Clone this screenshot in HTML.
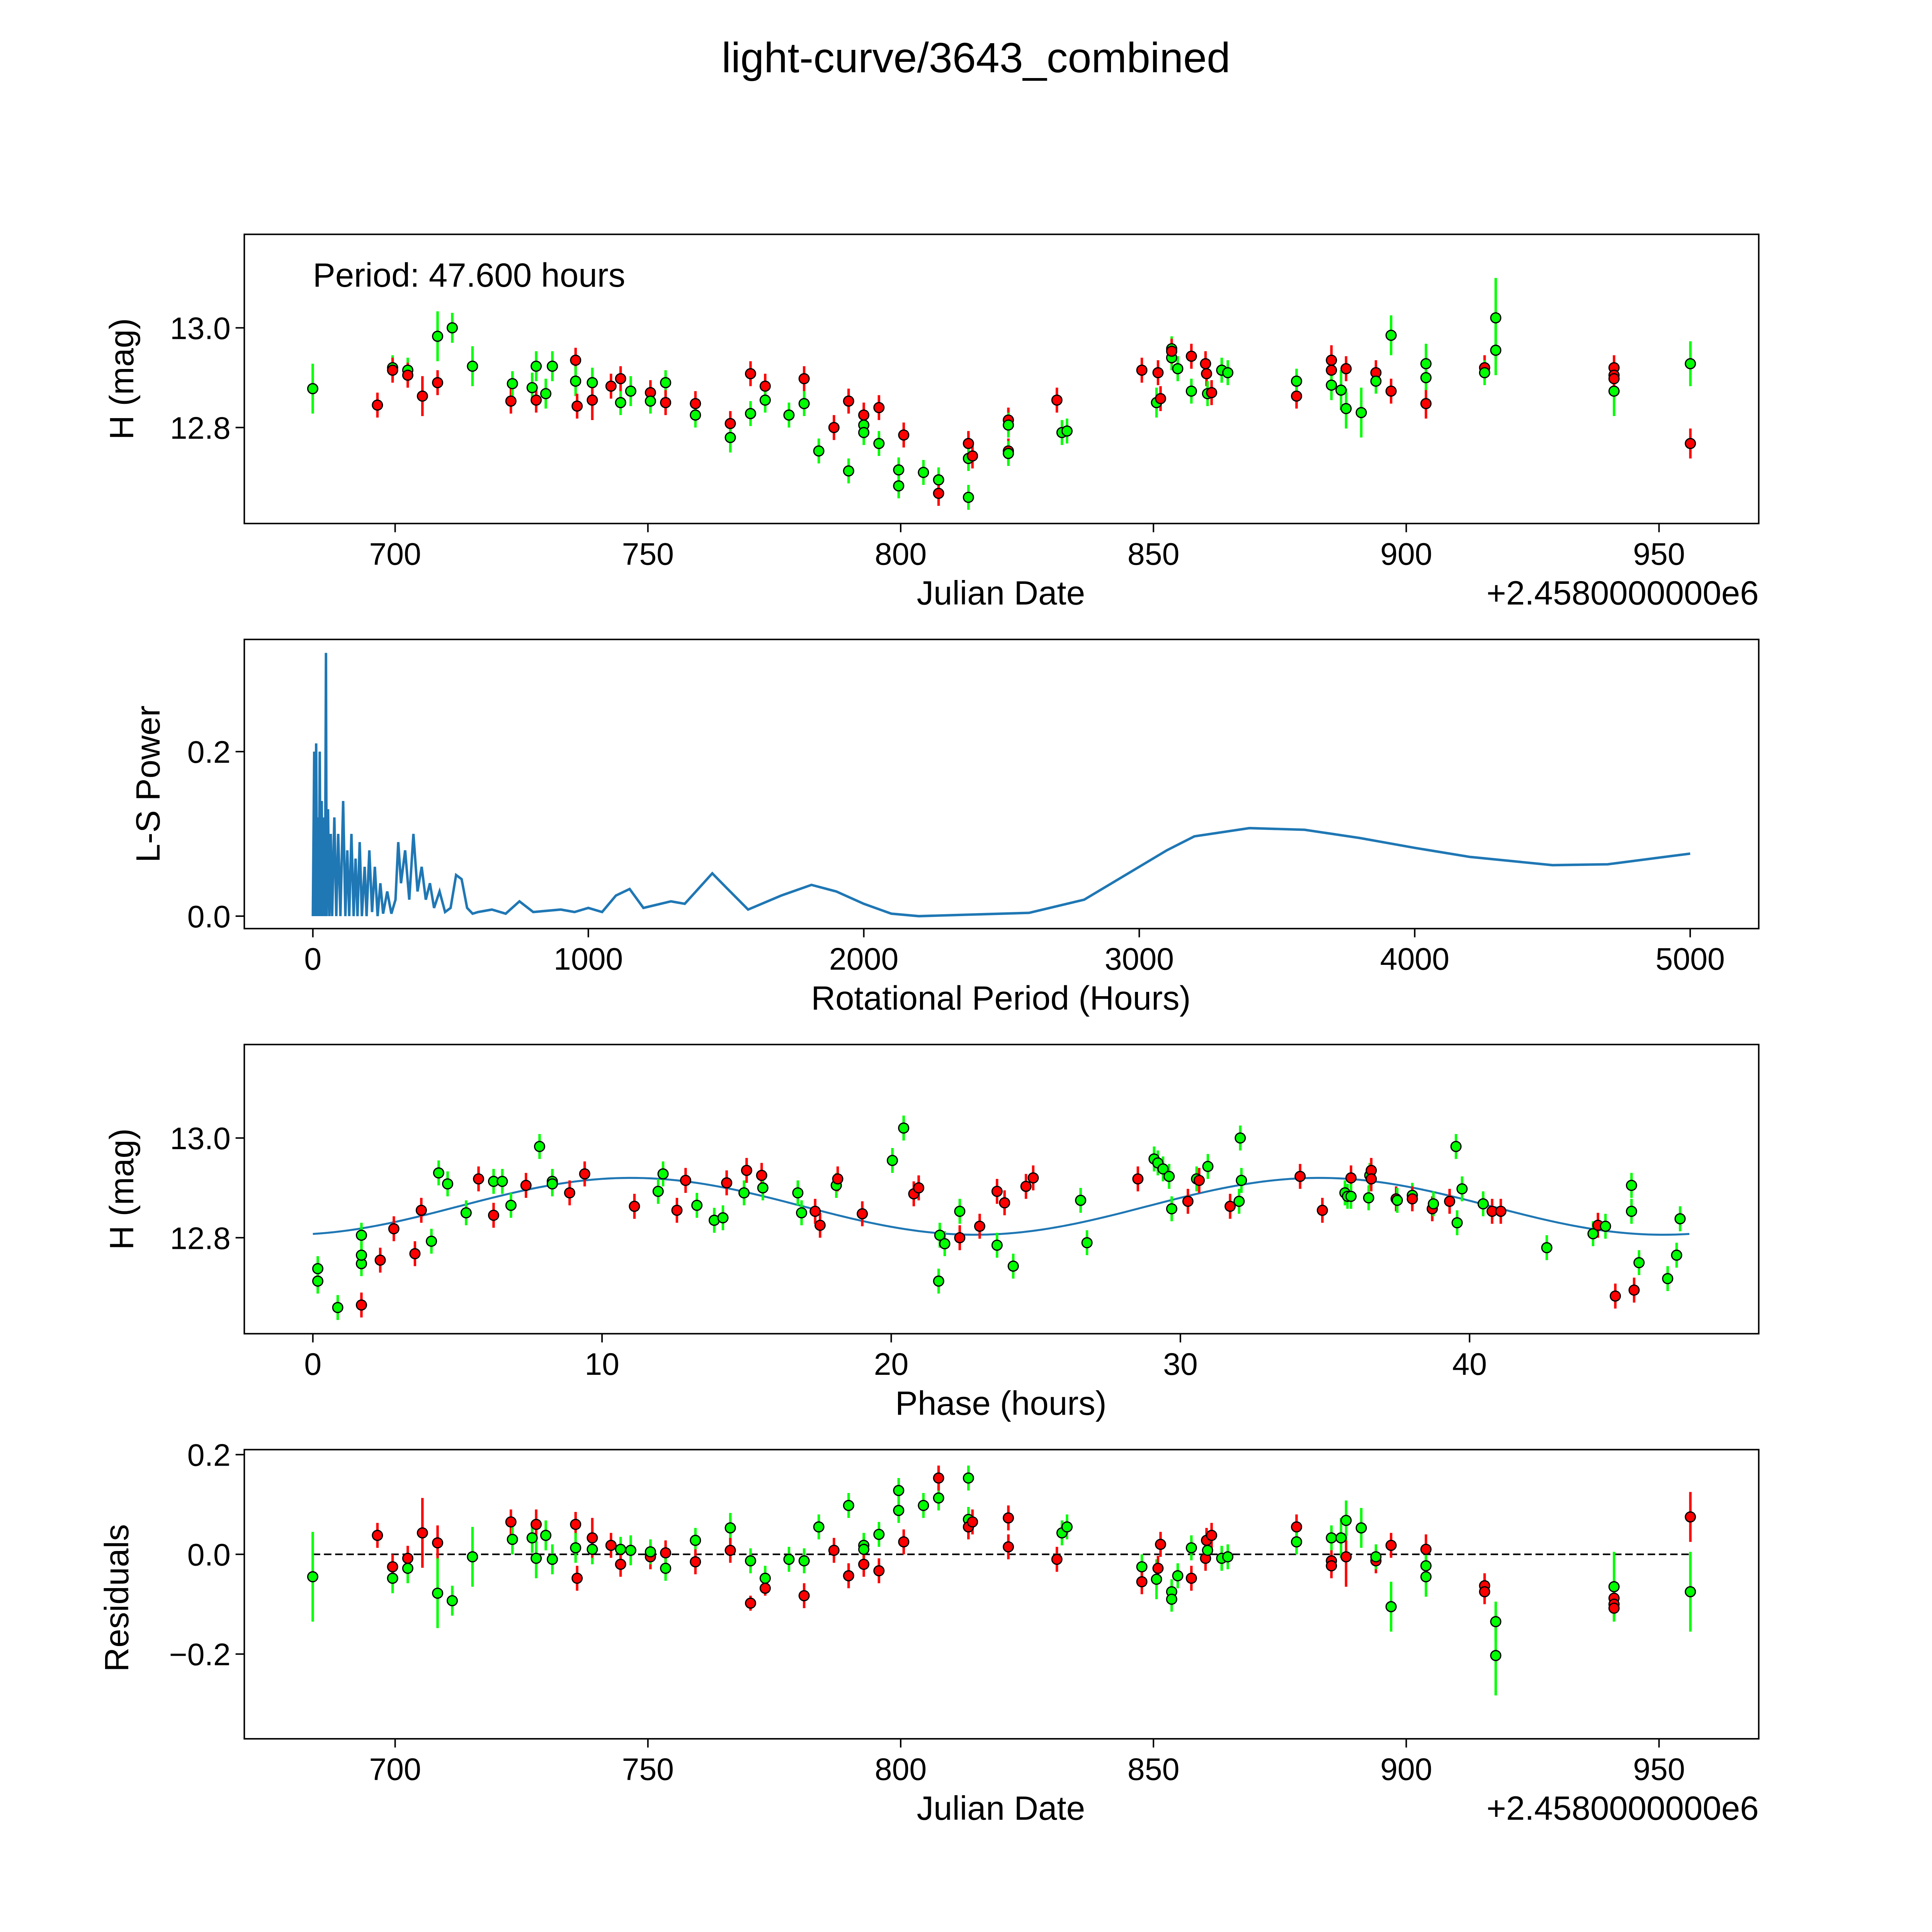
<!DOCTYPE html>
<html><head><meta charset="utf-8"><style>
html,body{margin:0;padding:0;background:#fff;overflow:hidden;width:100%;height:100%;}
svg{display:block;width:100vw;height:100vh;font-family:"Liberation Sans","DejaVu Sans",sans-serif;}
</style></head><body>
<svg id="fig" viewBox="0 0 1550 1550" preserveAspectRatio="none" xmlns="http://www.w3.org/2000/svg">
<rect width="1550" height="1550" fill="#fff"/>
<text x="783" y="58" font-size="34" text-anchor="middle">light-curve/3643_combined</text>
</svg>
<script>
// ---------- DATA ----------
const lcDate=[683.7,696.5,699.5,699.5,702.5,702.5,705.4,708.4,708.4,711.3,715.3,722.9,723.2,727.1,727.9,727.9,729.8,731.1,735.7,735.7,736.0,739.0,739.0,742.7,744.6,744.6,746.6,750.5,750.5,753.5,753.5,759.4,759.4,766.3,766.3,770.3,770.3,773.2,773.2,777.9,780.9,780.9,783.8,786.8,789.7,789.7,792.7,792.7,792.7,795.7,795.7,799.6,799.6,800.6,804.5,807.5,807.5,813.4,813.4,813.4,814.2,821.3,821.3,821.3,821.3,830.9,831.9,832.9,847.7,850.9,850.6,851.4,853.6,853.6,853.6,854.8,857.5,857.5,860.3,860.5,860.7,861.5,863.5,864.7,878.3,878.3,885.2,885.2,885.2,887.1,888.1,888.1,891.1,894.0,894.0,897.0,897.0,903.9,903.9,903.9,915.5,915.5,917.7,917.7,941.1,941.1,941.1,941.1,956.2,956.2];
const lcMag=[12.878,12.845,12.920,12.915,12.915,12.905,12.863,12.983,12.890,13.000,12.923,12.853,12.888,12.880,12.923,12.855,12.868,12.923,12.935,12.893,12.843,12.890,12.855,12.883,12.850,12.898,12.873,12.870,12.853,12.890,12.850,12.848,12.825,12.808,12.780,12.828,12.908,12.883,12.855,12.825,12.848,12.898,12.753,12.800,12.713,12.853,12.825,12.805,12.790,12.840,12.768,12.715,12.683,12.785,12.710,12.695,12.668,12.768,12.660,12.738,12.743,12.815,12.805,12.753,12.748,12.855,12.790,12.793,12.915,12.910,12.850,12.858,12.958,12.940,12.953,12.918,12.943,12.873,12.928,12.908,12.868,12.870,12.915,12.910,12.863,12.893,12.935,12.915,12.885,12.875,12.838,12.918,12.830,12.910,12.893,12.985,12.873,12.848,12.928,12.900,12.920,12.910,13.020,12.955,12.920,12.905,12.873,12.898,12.928,12.768];
const lcErr=[0.05,0.025,0.025,0.025,0.025,0.025,0.04,0.05,0.025,0.03,0.04,0.025,0.025,0.03,0.03,0.025,0.03,0.03,0.025,0.03,0.025,0.03,0.04,0.025,0.025,0.025,0.03,0.025,0.025,0.025,0.025,0.025,0.025,0.025,0.03,0.025,0.025,0.025,0.025,0.025,0.025,0.025,0.025,0.025,0.025,0.025,0.025,0.025,0.025,0.025,0.025,0.025,0.025,0.025,0.025,0.025,0.025,0.025,0.025,0.025,0.025,0.025,0.025,0.025,0.025,0.025,0.025,0.025,0.025,0.025,0.03,0.025,0.025,0.025,0.025,0.025,0.025,0.025,0.025,0.025,0.025,0.025,0.025,0.025,0.025,0.025,0.03,0.025,0.03,0.04,0.04,0.025,0.05,0.025,0.025,0.04,0.025,0.03,0.04,0.025,0.025,0.025,0.08,0.05,0.025,0.025,0.05,0.025,0.045,0.03];
const lcColor="grgrgrrgrg"+"grgggrggrg"+"rgrrgrgrgg"+"rrgrggrrgg"+"grgrgrrggr"+"gggrggrrgg"+"rrgrgrggrr"+"grggrgrgrr"+"grggrgrrgg"+"grgrggrrgg"+"rgggrrgrgr";
// phase-folded data
const phPhase=[0.17,0.17,0.86,1.68,1.68,1.68,1.68,2.33,2.8,3.53,3.75,4.1,4.35,4.66,5.3,5.73,6.25,6.25,6.55,6.85,7.37,7.84,8.28,8.28,8.88,9.4,11.12,12.11,11.94,12.59,12.89,13.28,13.88,14.18,14.31,15.0,14.91,15.52,15.56,16.77,16.9,17.37,17.54,18.1,18.15,19.0,20.04,20.43,20.78,20.95,21.64,21.68,21.85,22.37,22.37,23.06,23.66,23.66,23.92,24.22,24.66,24.91,26.55,26.77,28.53,29.09,29.22,29.4,29.61,29.7,30.26,30.56,30.65,30.95,31.72,32.03,32.07,32.11,34.91,34.14,35.69,35.78,35.9,35.9,36.51,36.55,36.6,36.6,37.46,37.5,38.02,38.02,38.71,38.75,39.31,39.53,39.57,39.74,40.47,40.78,41.08,42.67,44.27,44.44,44.7,45.6,45.6,45.04,45.69,45.86,46.85,47.28,47.16];
const phMag=[12.738,12.713,12.66,12.665,12.805,12.748,12.765,12.755,12.818,12.768,12.855,12.793,12.93,12.908,12.85,12.918,12.845,12.913,12.913,12.865,12.905,12.983,12.913,12.908,12.89,12.928,12.863,12.928,12.893,12.855,12.915,12.865,12.835,12.84,12.91,12.935,12.89,12.925,12.9,12.89,12.85,12.853,12.825,12.905,12.918,12.848,12.955,13.02,12.888,12.9,12.713,12.805,12.788,12.8,12.853,12.823,12.893,12.785,12.87,12.743,12.903,12.92,12.875,12.79,12.918,12.958,12.95,12.938,12.923,12.858,12.873,12.918,12.915,12.943,12.863,12.873,13.0,12.915,12.855,12.923,12.89,12.883,12.92,12.883,12.88,12.925,12.935,12.918,12.878,12.875,12.885,12.878,12.858,12.868,12.873,12.983,12.83,12.898,12.868,12.853,12.853,12.78,12.808,12.825,12.823,12.905,12.853,12.683,12.695,12.75,12.718,12.838,12.765];
const phColor="gggrgggrrrrggggrrgggrgggrrrggrrgggrrgrgggrrgrrggrrgggrgrrgrgrrggrgggggrgrgrgggrrggrgggrrrggrrgrggggrrggrgggrrggggrg";
// periodogram
const lsPeriod=[0,5,8,12,15,18,22,25,28,32,35,40,44,47.6,50,55,60,65,70,78,85,92,100,110,118,125,132,140,148,155,162,170,178,188,195,205,215,225,235,245,255,270,285,300,310,320,335,350,365,380,395,410,425,440,460,480,500,520,540,560,580,600,650,700,750,800,900,950,1000,1050,1100,1150,1200,1300,1350,1450,1500,1580,1700,1810,1900,2000,2100,2200,2400,2600,2800,3000,3100,3200,3400,3600,3800,4000,4200,4500,4700,5000];
const lsPower=[0,0.2,0,0.21,0,0.12,0,0.2,0,0.14,0,0.12,0,0.32,0,0.13,0,0.1,0,0.12,0,0.1,0,0.14,0,0.08,0,0.1,0,0.07,0,0.09,0,0.06,0,0.08,0.005,0.06,0,0.04,0.003,0.03,0.003,0.02,0.09,0.04,0.08,0.02,0.1,0.03,0.06,0.02,0.04,0.01,0.03,0.005,0.01,0.05,0.045,0.01,0.003,0.005,0.008,0.003,0.018,0.005,0.008,0.005,0.01,0.005,0.025,0.033,0.01,0.018,0.015,0.052,0.035,0.008,0.025,0.038,0.03,0.015,0.003,0.0,0.002,0.004,0.02,0.06,0.08,0.097,0.107,0.105,0.095,0.083,0.072,0.062,0.063,0.076];
// model: [mean, amplitude, peak phase, harmonic period]
const modelCoef=[12.863,0.057,11,23.8];
const modelPeriod=47.6;
// residuals
const resDate=[683.7,696.5,699.5,699.5,702.5,702.5,705.4,708.4,708.4,711.3,715.3,722.9,723.2,727.1,727.9,727.9,729.8,731.1,735.7,735.7,736.0,739.0,739.0,742.7,744.6,744.6,746.6,750.5,750.5,753.5,753.5,759.4,759.4,766.3,766.3,770.3,770.3,773.2,773.2,777.9,780.9,780.9,783.8,786.8,789.7,789.7,792.7,792.7,792.7,795.7,795.7,799.6,799.6,800.6,804.5,807.5,807.5,813.4,813.4,813.4,814.2,821.3,821.3,830.9,831.9,832.9,847.7,847.7,850.6,850.9,851.4,853.6,853.6,854.8,857.5,857.5,860.3,860.5,860.7,861.5,863.5,864.7,878.3,878.3,885.2,885.2,885.2,887.1,888.1,888.1,891.1,894.0,894.0,897.0,897.0,903.9,903.9,903.9,915.5,915.5,917.7,917.7,941.1,941.1,941.1,941.1,956.2,956.2];
const resVal=[-0.045,0.038,-0.048,-0.025,-0.028,-0.008,0.043,0.023,-0.078,-0.093,-0.005,0.065,0.03,0.033,0.06,-0.008,0.038,-0.01,0.06,0.013,-0.048,0.01,0.033,0.018,0.01,-0.02,0.008,-0.005,0.005,0.003,-0.028,0.028,-0.015,0.053,0.008,-0.013,-0.098,-0.068,-0.048,-0.01,-0.013,-0.083,0.055,0.008,0.098,-0.043,0.018,0.01,-0.02,0.04,-0.033,0.128,0.088,0.025,0.098,0.113,0.153,0.153,0.07,0.055,0.065,0.073,0.015,-0.01,0.043,0.055,-0.025,-0.055,-0.05,-0.028,0.02,-0.075,-0.09,-0.043,-0.048,0.013,-0.008,0.028,0.008,0.038,-0.008,-0.005,0.055,0.025,-0.013,-0.023,0.033,0.033,-0.005,0.068,0.053,-0.013,-0.005,-0.105,0.018,0.01,-0.023,-0.045,-0.063,-0.075,-0.135,-0.203,-0.088,-0.1,-0.108,-0.065,0.075,-0.075];
const resErr=[0.09,0.025,0.03,0.025,0.03,0.025,0.07,0.035,0.07,0.03,0.06,0.025,0.03,0.03,0.03,0.04,0.03,0.03,0.025,0.03,0.025,0.03,0.04,0.025,0.025,0.025,0.03,0.025,0.025,0.025,0.025,0.025,0.025,0.03,0.025,0.025,0.015,0.015,0.025,0.025,0.025,0.025,0.025,0.025,0.025,0.025,0.025,0.025,0.025,0.025,0.025,0.025,0.025,0.025,0.025,0.025,0.025,0.025,0.025,0.025,0.025,0.025,0.025,0.025,0.025,0.025,0.025,0.025,0.04,0.025,0.025,0.025,0.025,0.025,0.025,0.025,0.025,0.025,0.025,0.025,0.025,0.025,0.025,0.025,0.025,0.025,0.025,0.04,0.06,0.04,0.04,0.025,0.025,0.05,0.025,0.03,0.04,0.04,0.025,0.025,0.04,0.08,0.025,0.025,0.025,0.07,0.05,0.08];
const resColor="grgrgrrrgg"+"grggrgggrg"+"rgrrgrgrgr"+"ggrgrgrrgg"+"grgrgrggrg"+"rggrggrggr"+"rrrrgggrgr"+"rgggrgrrgr"+"ggrgrrggrg"+"grggrrggrr"+"ggrrrgrg";
</script>
<script>
const NS="http://www.w3.org/2000/svg";
const svg=document.getElementById('fig');
function mk(tag,attrs,parent,text){const e=document.createElementNS(NS,tag);for(const k in attrs)e.setAttribute(k,attrs[k]);if(text!==undefined)e.textContent=text;(parent||svg).appendChild(e);return e;}
function lin(d0,d1,p0,p1){return v=>p0+(v-d0)*(p1-p0)/(d1-d0);}

function frame(g,x0,y0,x1,y1){const r=mk('rect',{x:x0,y:y0,width:x1-x0,height:y1-y0,fill:'none',stroke:'#000','stroke-width':1.2},g);}
function xticks(g,vals,labels,sx,y1){vals.forEach((v,i)=>{const x=sx(v);mk('line',{x1:x,x2:x,y1:y1,y2:y1+7,stroke:'#000','stroke-width':1.2},g);const t=mk('text',{x:x,y:y1+33,'font-size':25,'text-anchor':'middle'},g,labels[i]);});}
function yticks(g,vals,labels,sy,x0){vals.forEach((v,i)=>{const y=sy(v);mk('line',{x1:x0-7,x2:x0,y1:y,y2:y,stroke:'#000','stroke-width':1.2},g);const t=mk('text',{x:x0-11,y:y+9,'font-size':25,'text-anchor':'end'},g,labels[i]);});}
function ylabel(g,txt,x,y,name){const t=mk('text',{x:x,y:y,'font-size':27,'text-anchor':'middle',transform:`rotate(-90 ${x} ${y})`},g,txt);}
function xlabel(g,txt,x,y,name){const t=mk('text',{x:x,y:y,'font-size':27,'text-anchor':'middle'},g,txt);}
function points(g,xs,ys,es,cs,sx,sy){
  xs.forEach((v,i)=>{const c=cs[i]==='r'?'#ff0000':'#00ff00';const x=sx(v);
    const l=mk('line',{x1:x,x2:x,y1:sy(ys[i]-es[i]),y2:sy(ys[i]+es[i]),stroke:c,'stroke-width':2},g);
    });
  xs.forEach((v,i)=>{const c=cs[i]==='r'?'#ff0000':'#00ff00';
    const p=mk('circle',{cx:sx(v),cy:sy(ys[i]),r:4,fill:c,stroke:'#000','stroke-width':1},g);
    });
}

// Panel 1
{const g=mk('g',{});
 const sx=lin(700,950,317,1331), sy=lin(13.0,12.8,263,343);
 frame(g,196,188,1411,420);
 points(g,lcDate,lcMag,lcErr,lcColor,sx,sy);
 xticks(g,[700,750,800,850,900,950],['700','750','800','850','900','950'],sx,420);
 yticks(g,[12.8,13.0],['12.8','13.0'],sy,196);
 ylabel(g,'H (mag)',107,304,'y-axis-title');
 xlabel(g,'Julian Date',803,485,'x-axis-title');
 const o=mk('text',{x:1411,y:485,'font-size':27,'text-anchor':'end'},g,'+2.4580000000e6');
 const p=mk('text',{x:251,y:230,'font-size':27},g,'Period: 47.600 hours');
}
// Panel 2
{const g=mk('g',{});
 const sx=lin(0,5000,251,1356), sy=lin(0,0.2,735,603);
 frame(g,196,513,1411,745);
 const d=lsPeriod.map((v,i)=>(i?'L':'M')+sx(v).toFixed(2)+' '+sy(lsPower[i]).toFixed(2)).join(' ');
 const pl=mk('path',{d:d,fill:'none',stroke:'#1f77b4','stroke-width':2},g);
 xticks(g,[0,1000,2000,3000,4000,5000],['0','1000','2000','3000','4000','5000'],sx,745);
 yticks(g,[0,0.2],['0.0','0.2'],sy,196);
 ylabel(g,'L-S Power',128,629,'y-axis-title');
 xlabel(g,'Rotational Period (Hours)',803,810,'x-axis-title');
}
// Panel 3
{const g=mk('g',{});
 const sx=lin(0,40,251,1179), sy=lin(13.0,12.8,913,993);
 frame(g,196,838,1411,1070);
 let d='';for(let k=0;k<=200;k++){const ph=modelPeriod*k/200;const m=modelCoef[0]+modelCoef[1]*Math.cos(2*Math.PI*(ph-modelCoef[2])/modelCoef[3]);d+=(k?'L':'M')+sx(ph).toFixed(2)+' '+sy(m).toFixed(2)+' ';}
 const ml=mk('path',{d:d,fill:'none',stroke:'#1f77b4','stroke-width':1.6},g);
 points(g,phPhase,phMag,phPhase.map(()=>0.025),phColor,sx,sy);
 xticks(g,[0,10,20,30,40],['0','10','20','30','40'],sx,1070);
 yticks(g,[12.8,13.0],['12.8','13.0'],sy,196);
 ylabel(g,'H (mag)',107,954,'y-axis-title');
 xlabel(g,'Phase (hours)',803,1135,'x-axis-title');
}
// Panel 4
{const g=mk('g',{});
 const sx=lin(700,950,317,1331), sy=lin(0,0.2,1247,1167);
 frame(g,196,1163,1411,1395);
 const zl=mk('line',{x1:sx(resDate[0]),x2:sx(resDate[resDate.length-1]),y1:sy(0),y2:sy(0),stroke:'#000','stroke-width':1.3,'stroke-dasharray':'6 3'},g);
 points(g,resDate,resVal,resErr,resColor,sx,sy);
 xticks(g,[700,750,800,850,900,950],['700','750','800','850','900','950'],sx,1395);
 yticks(g,[-0.2,0,0.2],['\u22120.2','0.0','0.2'],sy,196);
 ylabel(g,'Residuals',103,1282,'y-axis-title');
 xlabel(g,'Julian Date',803,1460,'x-axis-title');
 const o=mk('text',{x:1411,y:1460,'font-size':27,'text-anchor':'end'},g,'+2.4580000000e6');
}
</script>
</body></html>
